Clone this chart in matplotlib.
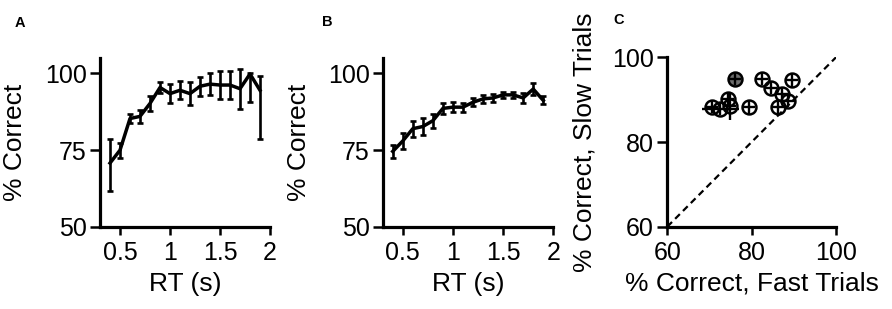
import matplotlib
matplotlib.use("Agg")
import matplotlib.pyplot as plt
import numpy as np

plt.rcParams['font.family'] = ['Liberation Sans', 'DejaVu Sans']

# Panel A
rt_a = [0.4, 0.5, 0.6, 0.7, 0.8, 0.9, 1.0, 1.1, 1.2, 1.3, 1.4, 1.5, 1.6, 1.7, 1.8, 1.9]
pc_a = [70.8, 75.0, 85.3, 86.0, 90.2, 95.4, 93.4, 94.5, 93.4, 95.8, 96.5, 96.2, 96.2, 95.0, 99.8, 94.5]
err_a_lo = [9.0, 2.5, 1.6, 2.0, 2.3, 1.8, 3.0, 3.0, 3.8, 3.1, 3.6, 4.6, 4.6, 6.5, 9.0, 16.0]
err_a_hi = [7.8, 2.5, 1.6, 2.0, 2.3, 1.8, 3.0, 3.0, 3.8, 3.1, 3.6, 4.6, 4.6, 6.5, 0.3, 4.8]

# Panel B
rt_b = [0.4, 0.5, 0.6, 0.7, 0.8, 0.9, 1.0, 1.1, 1.2, 1.3, 1.4, 1.5, 1.6, 1.7, 1.8, 1.9]
pc_b = [74.6, 78.0, 82.0, 82.7, 84.6, 88.6, 89.0, 89.0, 90.6, 91.7, 92.0, 93.0, 93.0, 92.0, 94.9, 91.2]
err_b = [2.0, 2.5, 2.6, 2.8, 2.3, 1.7, 1.6, 1.5, 1.3, 1.3, 1.2, 1.0, 1.0, 1.5, 2.0, 1.3]

# Panel C
fast = [76.0, 82.4, 89.5, 84.6, 87.1, 88.7, 86.2, 79.4, 70.6, 72.6, 74.4, 74.8]
slow = [94.9, 94.9, 94.6, 92.8, 91.3, 89.7, 88.2, 88.2, 88.3, 87.8, 90.1, 88.5]
fast_err = [1.5, 1.5, 1.5, 1.5, 1.5, 1.5, 1.5, 1.5, 1.5, 4.3, 1.5, 1.5]
slow_err = [1.5, 1.5, 1.5, 1.5, 1.5, 1.5, 1.5, 1.5, 1.5, 1.5, 1.5, 3.2]
filled = [True] + [False] * 11

W, H = 892, 309
fig = plt.figure(figsize=(W / 100, H / 100), dpi=100)

def ax_at(l, r, t, b):
    return fig.add_axes([l / W, 1 - b / H, (r - l) / W, (b - t) / H])

axA = ax_at(100, 270, 58, 227)
axB = ax_at(382.7, 553.3, 58, 227)
axC = ax_at(667.3, 836, 57.3, 226.7)

TF = 18
LF = 19

def style(ax):
    for s in ['top', 'right']:
        ax.spines[s].set_visible(False)
    for s in ['left', 'bottom']:
        ax.spines[s].set_linewidth(2.3)
    ax.tick_params(axis='y', direction='out', length=7, width=1.8, pad=2.5, labelsize=TF)
    ax.tick_params(axis='x', direction='out', length=6, width=1.8, pad=4, labelsize=TF)

for ax, x, y, elo, ehi in [(axA, rt_a, pc_a, err_a_lo, err_a_hi),
                           (axB, rt_b, pc_b, err_b, err_b)]:
    ax.errorbar(x, y, yerr=[elo, ehi], color='black', lw=2.5, elinewidth=1.9,
                capsize=2.3, capthick=1.9)
    ax.set_xlim(0.3, 2.0)
    ax.set_ylim(50, 105)
    ax.set_xticks([0.5, 1, 1.5, 2])
    ax.set_xticklabels(['0.5', '1', '1.5', '2'])
    ax.set_yticks([50, 75, 100])
    ax.set_xlabel('RT (s)', fontsize=LF)
    ax.set_ylabel('% Correct', fontsize=LF)
    style(ax)

axA.yaxis.set_label_coords(-0.43, 0.5)
axB.yaxis.set_label_coords(-0.42, 0.5)
axA.xaxis.set_label_coords(0.5, -0.265)
axB.xaxis.set_label_coords(0.5, -0.265)

# Panel C
axC.plot([60, 100], [60, 100], color='black', lw=1.6, ls=(0, (3, 2)), zorder=1)
for fx, sy, f in zip(fast, slow, filled):
    axC.plot(fx, sy, 'o', ms=10, mfc='#6e6e6e' if f else 'none', mec='black',
             mew=1.8, zorder=3, clip_on=False)
axC.errorbar(fast, slow, xerr=fast_err, yerr=slow_err, fmt='none', ecolor='black',
             elinewidth=1.7, capsize=0, zorder=4)
axC.set_xlim(60, 100)
axC.set_ylim(60, 100)
axC.set_xticks([60, 80, 100])
axC.set_yticks([60, 80, 100])
axC.set_xlabel('% Correct, Fast Trials', fontsize=LF)
axC.set_ylabel('% Correct, Slow Trials', fontsize=LF)
axC.yaxis.set_label_coords(-0.42, 0.5)
axC.xaxis.set_label_coords(0.5, -0.265)
style(axC)

fig.text(20 / W, 1 - 23 / H, 'A', fontsize=10.5, fontweight='bold', ha='center', va='center')
fig.text(327 / W, 1 - 22 / H, 'B', fontsize=10.5, fontweight='bold', ha='center', va='center')
fig.text(619 / W, 1 - 20 / H, 'C', fontsize=10.5, fontweight='bold', ha='center', va='center')

fig.savefig('out.png', dpi=100)
